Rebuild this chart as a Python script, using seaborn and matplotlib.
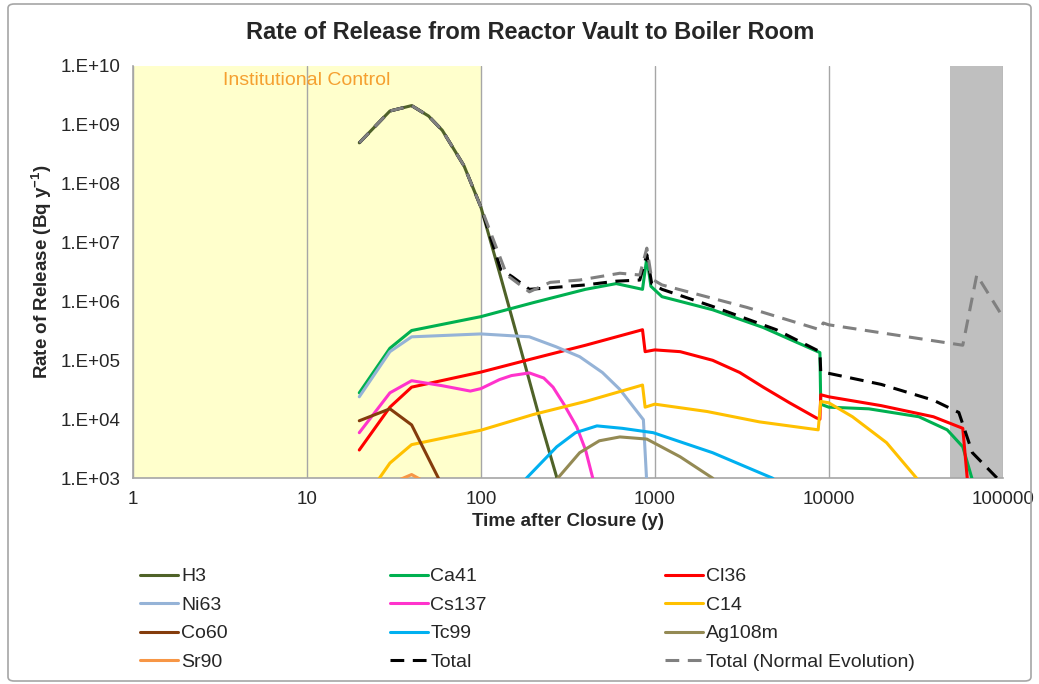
import matplotlib
matplotlib.use("Agg")
import matplotlib.pyplot as plt
import matplotlib.patches as mpatches
from matplotlib.ticker import FixedLocator, NullLocator
import seaborn as sns

# values (time in years, release rate in Bq/y)
t_h3 = [20, 30, 40, 50, 60, 80, 100, 130, 170, 220, 280, 300]
h3 = [4.9e8, 1.7e9, 2.1e9, 1.4e9, 8.0e8, 2.0e8, 4.0e7, 2.6e6, 1.5e5, 9.3e3, 8e2, 4e2]

t_ca41 = [20, 30, 40, 100, 200, 400, 600, 850, 900, 950, 1100, 2150, 4200, 8900, 9000,
          10000, 17000, 33000, 48000, 59000, 68000]
ca41 = [2.8e4, 1.6e5, 3.2e5, 5.5e5, 9.5e5, 1.6e6, 2.0e6, 1.6e6, 5.5e6, 1.8e6, 1.2e6, 7.2e5,
        3.6e5, 1.35e5, 1.8e4, 1.6e4, 1.5e4, 1.1e4, 6.6e3, 3.4e3, 8e2]

t_cl36 = [20, 30, 40, 100, 200, 400, 850, 880, 1000, 1400, 2150, 3080, 4200, 5950, 8500,
          8900, 9000, 10000, 20000, 40000, 59000, 63000]
cl36 = [3e3, 1.6e4, 3.5e4, 6.3e4, 1.07e5, 1.8e5, 3.3e5, 1.4e5, 1.5e5, 1.4e5, 1.0e5, 6.2e4,
        3.5e4, 1.9e4, 1.05e4, 1.0e4, 2.6e4, 2.4e4, 1.7e4, 1.1e4, 7e3, 8e2]

t_ni63 = [20, 30, 40, 100, 190, 270, 370, 500, 630, 860, 900, 920]
ni63 = [2.4e4, 1.4e5, 2.5e5, 2.8e5, 2.5e5, 1.7e5, 1.15e5, 6.2e4, 3.2e4, 9.8e3, 8e2, 5e2]

t_cs137 = [20, 30, 40, 60, 87, 100, 128, 150, 190, 230, 260, 300, 356, 400, 440, 460]
cs137 = [5.9e3, 2.8e4, 4.5e4, 3.7e4, 3.0e4, 3.3e4, 4.7e4, 5.5e4, 6.1e4, 5.0e4, 3.5e4, 1.8e4,
         7.4e3, 3e3, 1e3, 6e2]

t_c14 = [24, 30, 40, 100, 200, 400, 850, 880, 1000, 2000, 4000, 8700, 9000, 10000, 13700,
         21500, 32000, 35000]
c14 = [7e2, 1.8e3, 3.7e3, 6.5e3, 1.2e4, 2.0e4, 3.8e4, 1.6e4, 1.8e4, 1.35e4, 9e3, 6.6e3,
       2.0e4, 1.9e4, 1.1e4, 4e3, 1e3, 7e2]

t_co60 = [20, 30, 40, 57, 62]
co60 = [9.4e3, 1.5e4, 8e3, 1e3, 6e2]

t_tc99 = [150, 183, 273, 350, 465, 650, 980, 2150, 4750, 5500]
tc99 = [3e2, 1e3, 3.4e3, 5.9e3, 7.7e3, 7.0e3, 5.9e3, 2.7e3, 1e3, 7e2]

t_ag108m = [260, 277, 370, 480, 630, 900, 1400, 2150, 2500]
ag108m = [6e2, 1e3, 2.7e3, 4.3e3, 5e3, 4.6e3, 2.3e3, 1e3, 6e2]

t_sr90 = [30, 40, 50]
sr90 = [8e2, 1.15e3, 8e2]

t_total = [20, 30, 40, 50, 60, 80, 100, 130, 152, 190, 250, 400, 600, 820, 900, 960, 1100,
           2150, 3400, 5000, 8900, 9000, 10000, 20000, 40000, 56000, 67000, 93000, 100000]
total = [4.9e8, 1.7e9, 2.1e9, 1.4e9, 8.0e8, 2.0e8, 4.0e7, 3.5e6, 2.6e6, 1.6e6, 1.7e6, 1.9e6,
         2.2e6, 2.3e6, 6.2e6, 2.0e6, 1.6e6, 8.2e5, 5.0e5, 3.3e5, 1.4e5, 6.3e4, 6.0e4, 3.9e4,
         2.1e4, 1.3e4, 2.7e3, 1e3, 8e2]

t_total_ne = [20, 30, 40, 50, 60, 80, 100, 141, 190, 250, 370, 630, 820, 900, 960, 1100,
              3380, 8900, 9300, 10000, 59000, 71000, 100000]
total_ne = [4.9e8, 1.7e9, 2.1e9, 1.4e9, 8.0e8, 2.0e8, 4.0e7, 2.8e6, 1.45e6, 2.1e6, 2.3e6,
            3.0e6, 2.8e6, 8.0e6, 2.4e6, 1.9e6, 7.9e5, 3.3e5, 4.3e5, 4.0e5, 1.8e5, 2.8e6, 5.5e5]

x_ticks = [1, 10, 100, 1000, 10000, 100000]
y_ticks = [1e3, 1e4, 1e5, 1e6, 1e7, 1e8, 1e9, 1e10]

sns.set_style("white")
plt.rcParams['font.family'] = ['Liberation Sans', 'DejaVu Sans']
plt.rcParams['mathtext.fontset'] = 'custom'
plt.rcParams['mathtext.rm'] = 'Liberation Sans'
plt.rcParams['mathtext.bf'] = 'Liberation Sans:bold'

fig = plt.figure(figsize=(10.39, 6.84), dpi=100)
ax = fig.add_axes([0.128, 0.301, 0.837, 0.603])

# shaded periods
ax.axvspan(1, 100, color='#FFFFCC', zorder=0, lw=0)
ax.axvspan(50000, 100000, color='#BFBFBF', zorder=0, lw=0)

dash = (0, (4.5, 2.8))
series = [
    (t_h3, h3, 'H3', '#4F6228', '-'),
    (t_ca41, ca41, 'Ca41', '#00B050', '-'),
    (t_cl36, cl36, 'Cl36', '#FF0000', '-'),
    (t_ni63, ni63, 'Ni63', '#95B3D7', '-'),
    (t_cs137, cs137, 'Cs137', '#FF33CC', '-'),
    (t_c14, c14, 'C14', '#FFC000', '-'),
    (t_co60, co60, 'Co60', '#843C0C', '-'),
    (t_tc99, tc99, 'Tc99', '#00B0F0', '-'),
    (t_ag108m, ag108m, 'Ag108m', '#948A54', '-'),
    (t_sr90, sr90, 'Sr90', '#F79646', '-'),
    (t_total, total, 'Total', '#000000', dash),
    (t_total_ne, total_ne, 'Total (Normal Evolution)', '#808080', dash),
]
for t, v, name, col, ls in series:
    sns.lineplot(x=t, y=v, ax=ax, color=col, linestyle=ls, linewidth=2.2,
                 label=name, estimator=None, sort=False, legend=False, zorder=3)
if ax.get_legend():
    ax.get_legend().remove()

ax.set_xscale('log')
ax.set_yscale('log')
ax.set_xlim(1, 100000)
ax.set_ylim(1e3, 1e10)
ax.xaxis.set_major_locator(FixedLocator(x_ticks))
ax.xaxis.set_minor_locator(NullLocator())
ax.yaxis.set_major_locator(FixedLocator(y_ticks))
ax.yaxis.set_minor_locator(NullLocator())
ax.set_xticklabels([str(x) for x in x_ticks])
ax.set_yticklabels(['1.E+%02d' % i for i in range(3, 11)])
ax.tick_params(axis='both', which='major', direction='out', length=5, width=1,
               color='#A6A6A6', labelsize=13.5, pad=4)
ax.grid(axis='x', color='#A6A6A6', linewidth=1, zorder=1)
ax.grid(axis='y', visible=False)
ax.set_axisbelow(True)
sns.despine(ax=ax)
for s in ['left', 'bottom']:
    ax.spines[s].set_color('#A6A6A6')
    ax.spines[s].set_linewidth(1.2)

ax.set_xlabel('Time after Closure (y)', fontsize=13.5, fontweight='bold', labelpad=4)
ax.set_ylabel(r'Rate of Release (Bq y$^{\mathbf{-1}}$)', fontsize=13.5, fontweight='bold',
              labelpad=5)
ax.text(10, 5.6e9, 'Institutional Control', color='#F5A030', fontsize=14,
        ha='center', va='center')

fig.text(0.51, 0.953, 'Rate of Release from Reactor Vault to Boiler Room',
         fontsize=17, fontweight='bold', ha='center', va='center')

# legend: three columns, filled row by row like the original
handles, labels = ax.get_legend_handles_labels()
col_x = [0.135, 0.375, 0.64]
for c in range(3):
    fig.legend(handles[c::3], labels[c::3], loc='upper left',
               bbox_to_anchor=(col_x[c], 0.170), frameon=False, fontsize=14,
               handlelength=1.95, handletextpad=0.15, labelspacing=0.56,
               borderpad=0, borderaxespad=0)

# outer chart border
border = mpatches.FancyBboxPatch((8 / 1039, 3 / 684), 1023 / 1039, 677 / 684,
                                 boxstyle='round,pad=0,rounding_size=0.006',
                                 transform=fig.transFigure, fill=False,
                                 edgecolor='#A6A6A6', linewidth=1.2)
fig.patches.append(border)

fig.savefig('out.png', dpi=100)
